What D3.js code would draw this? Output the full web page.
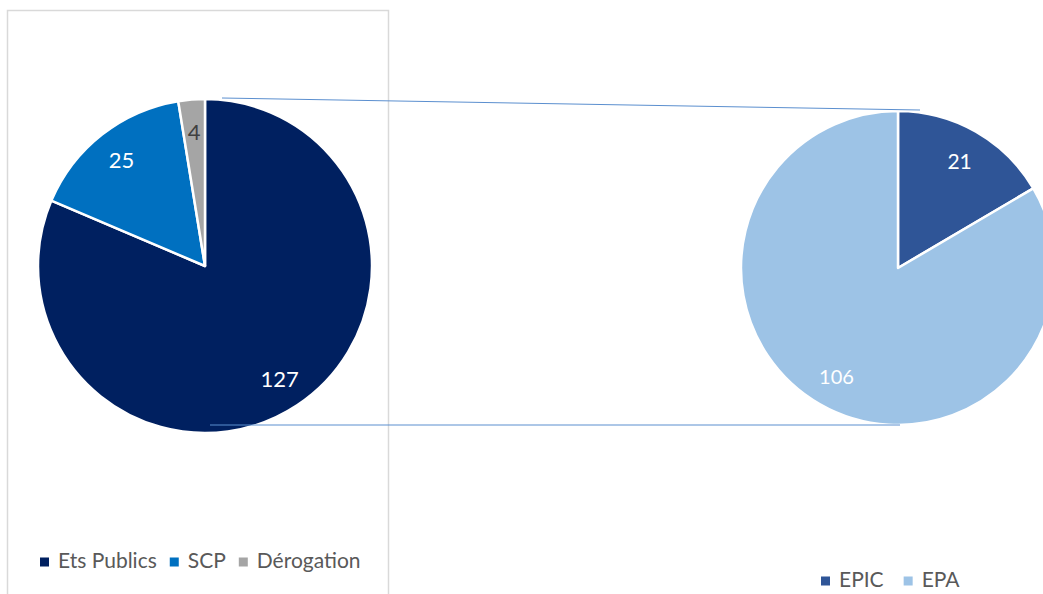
<!DOCTYPE html>
<html>
<head>
<meta charset="utf-8">
<script src="https://cdn.jsdelivr.net/npm/d3@7"></script>
<style>
  body { margin: 0; background: #fff; }
  svg { display: block; font-family: Lato, "Open Sans", sans-serif; }
</style>
</head>
<body>
<svg id="chart" width="1043" height="594"></svg>
<script>
// main pie
var mainLabels = ["Ets Publics", "SCP", "Dérogation"];
var mainValues = [127, 25, 4];
var mainColors = ["#002060", "#0070c0", "#a5a5a5"];
var mainTextColors = ["#ffffff", "#ffffff", "#404040"];

// breakdown of Ets Publics
var subLabels = ["EPIC", "EPA"];
var subValues = [21, 106];
var subColors = ["#2f5597", "#9dc3e6"];

var svg = d3.select("#chart");

// frame around left chart
svg.append("rect")
	.attr("x", 7.5)
	.attr("y", 10.5)
	.attr("width", 381)
	.attr("height", 600)
	.attr("fill", "none")
	.attr("stroke", "#d9d9d9")
	.attr("stroke-width", 1.5);

var pie = d3.pie().sort(null);

function drawPie(cx, cy, r, values, colors, textColors, fontSizes, labelRatio) {
	var g = svg.append("g").attr("transform", "translate(" + cx + "," + cy + ")");
	var arc = d3.arc().innerRadius(0).outerRadius(r);
	var labelArc = d3.arc().innerRadius(r * labelRatio).outerRadius(r * labelRatio);
	var arcs = pie(values);

	g.selectAll(".slice")
		.data(arcs)
		.enter()
		.append("path")
		.attr("class", "slice")
		.attr("d", arc)
		.attr("fill", (d, i) => colors[i])
		.attr("stroke", "#fff")
		.attr("stroke-width", 2.5)
		.attr("stroke-linejoin", "round");

	g.selectAll(".lbl")
		.data(arcs)
		.enter()
		.append("text")
		.attr("class", "lbl")
		.attr("x", (d) => labelArc.centroid(d)[0])
		.attr("y", (d) => labelArc.centroid(d)[1])
		.attr("text-anchor", "middle")
		.attr("dominant-baseline", "central")
		.attr("font-size", (d, i) => fontSizes[i])
		.attr("fill", (d, i) => textColors[i])
		.text((d) => d.value);

	return arcs;
}

var left = { cx: 205, cy: 266, r: 167 };
var right = { cx: 898, cy: 268, r: 157 };

drawPie(left.cx, left.cy, left.r, mainValues, mainColors, mainTextColors, [22, 22, 22], 0.81);
drawPie(right.cx, right.cy, right.r, subValues, subColors, ["#fff", "#fff"], [21, 20], 0.79);

// connector lines between the two pies
var connectors = [
	[[222, 98], [920, 110]],
	[[210, 425], [900, 425]]
];
svg.selectAll(".conn")
	.data(connectors)
	.enter()
	.append("line")
	.attr("class", "conn")
	.attr("x1", (d) => d[0][0])
	.attr("y1", (d) => d[0][1])
	.attr("x2", (d) => d[1][0])
	.attr("y2", (d) => d[1][1])
	.attr("stroke", "#5b8fcf")
	.attr("stroke-width", 1);

function legend(x, y, labels, colors, gap) {
	var g = svg.append("g").attr("transform", "translate(" + x + "," + y + ")");
	var cursor = 0;
	labels.forEach(function(lbl, i) {
		g.append("rect")
			.attr("x", cursor)
			.attr("y", -10.5)
			.attr("width", 9)
			.attr("height", 9)
			.attr("fill", colors[i]);
		var t = g.append("text")
			.attr("x", cursor + 18)
			.attr("y", 0)
			.attr("font-size", 21)
			.attr("fill", "#595959")
			.text(lbl);
		cursor += 18 + t.node().getComputedTextLength() + gap;
	});
}

legend(40, 568, mainLabels, mainColors, 13);
legend(821, 587, subLabels, subColors, 20);
</script>
</body>
</html>
